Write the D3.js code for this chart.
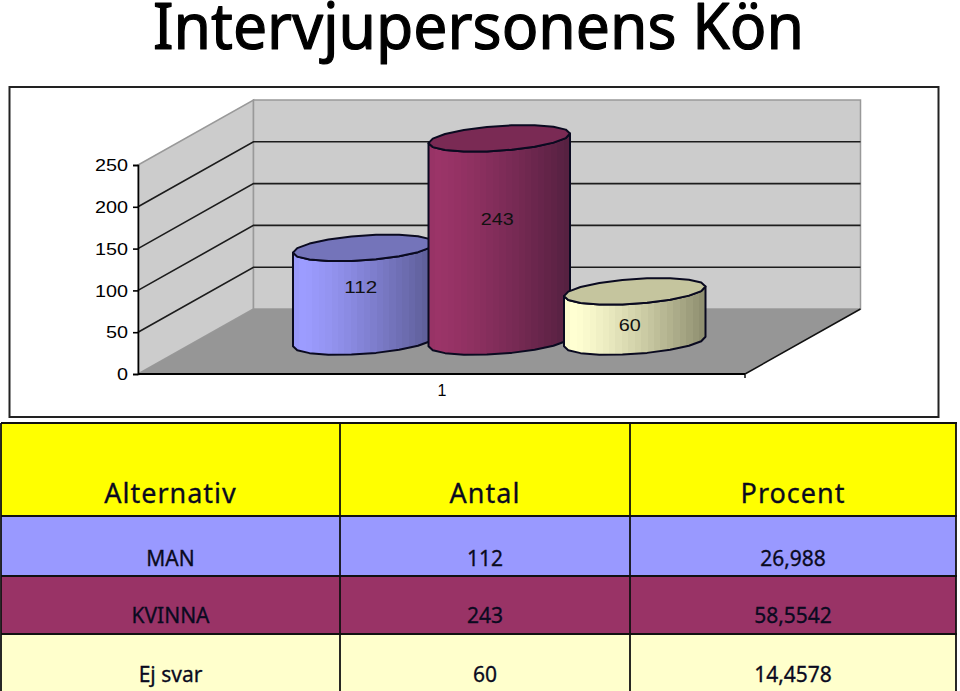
<!DOCTYPE html>
<html><head><meta charset="utf-8">
<script src="https://cdn.jsdelivr.net/npm/d3@7/dist/d3.min.js"></script>
<style>html,body{margin:0;padding:0;background:#fff}svg{display:block}</style>
</head><body><svg id="c" width="960" height="691"></svg>
<script>
const titleText = "Intervjupersonens Kön";
const categories = ["MAN","KVINNA","Ej svar"];
const counts = [112,243,60];
const percents = ["26,988","58,5542","14,4578"];
const headers = ["Alternativ","Antal","Procent"];
const axisTicks = [0,50,100,150,200,250];
const gridTicks = [50,100,150,200];
const xCategory = "1";

const light = ["#9c9cff","#9b3468","#ffffd2"];
const dark = ["#5a5a92","#542040","#8d8d6e"];
const topFill = ["#7474ba","#7a2a54","#c5c59e"];
const rowFill = ["#9999ff","#993366","#ffffcc"];
const labelNudgeY = [-7,-21,9];
const labelNudgeX = [-3,-2,-5];

const svg = d3.select("#c");
svg.append("rect").attr("width",960).attr("height",691).attr("fill","#fff");

// title
svg.append("text").attr("x",153).attr("y",49).text(titleText)
  .attr("font-family","Noto Sans").attr("font-size",63)
  .attr("textLength",651).attr("lengthAdjust","spacingAndGlyphs")
  .attr("fill","#000").attr("stroke","#000").attr("stroke-width",1.2).attr("stroke-linejoin","round");

// frame
svg.append("rect").attr("x",9.5).attr("y",87).attr("width",929).attr("height",330)
  .attr("fill","#fff").attr("stroke","#222").attr("stroke-width",2);

// 3D scene
const y = d3.scaleLinear().domain([0,250]).range([374,165]);
const x0 = 138, x1 = 745, dx = 115.5, dy = -65;
const line = d3.line();
const wide = (sel,perChar) => sel.attr("textLength",function(){return this.textContent.length*perChar;})
  .attr("lengthAdjust","spacingAndGlyphs");

const g = svg.append("g");
g.append("path").attr("d",line([[x0,y(0)],[x0+dx,y(0)+dy],[x0+dx,y(250)+dy],[x0,y(250)]])+"Z")
  .attr("fill","#cccccc").attr("stroke","#999").attr("stroke-width",1.5);
g.append("path").attr("d",line([[x0+dx,y(0)+dy],[x1+dx,y(0)+dy],[x1+dx,y(250)+dy],[x0+dx,y(250)+dy]])+"Z")
  .attr("fill","#cccccc").attr("stroke","#999").attr("stroke-width",1.5);
g.append("path").attr("d",line([[x0,y(0)],[x1,y(0)],[x1+dx,y(0)+dy],[x0+dx,y(0)+dy]])+"Z")
  .attr("fill","#969696");
g.selectAll(".gl").data(gridTicks).join("path").attr("class","gl")
  .attr("d",d=>line([[x0,y(d)],[x0+dx,y(d)+dy],[x1+dx,y(d)+dy]]))
  .attr("fill","none").attr("stroke","#1c1c1c").attr("stroke-width",1.6);
g.append("path").attr("d",line([[x1,y(0)+4],[x1,y(0)],[x1+dx,y(0)+dy]]))
  .attr("fill","none").attr("stroke","#111").attr("stroke-width",1.5);

// value axis
const yAxis = d3.axisLeft(y).tickValues(axisTicks).tickSize(5).tickPadding(5);
const ya = svg.append("g").attr("transform",`translate(${x0},0)`).call(yAxis);
ya.selectAll("path,line").attr("stroke","#000").attr("stroke-width",1.6);
ya.selectAll("text").attr("font-family","Liberation Sans").attr("font-size",16).attr("fill","#000")
  .attr("dy","0.36em").call(wide,11);

// category axis
const xa = d3.scalePoint().domain([xCategory]).range([(x0+x1)/2,(x0+x1)/2]);
const xAxisG = svg.append("g").attr("transform",`translate(0,${y(0)})`)
  .call(d3.axisBottom(xa).tickSize(0).tickPadding(11));
xAxisG.select(".domain").attr("d",`M${x0},0H${x1}`).attr("stroke","#000").attr("stroke-width",1.8);
xAxisG.selectAll("text").attr("font-family","Liberation Sans").attr("font-size",16).attr("fill","#000");

// cylinders
const mid = (x0+x1)/2 + dx/2;
const xc = d3.scalePoint().domain(categories).range([mid-135.5,mid+135.5]);
const ax = 70.75, bz = 12.4, skew = 4.8, baseY = y(0)+dy/2;
const defs = svg.append("defs");
const pt = (cx,cy,t) => [cx+ax*Math.cos(t), cy+bz*Math.sin(t)-skew*Math.cos(t)];
const arc = (cx,cy,a,b) => { const n = Math.round(Math.abs(b-a)/Math.PI*9);
  return d3.range(n+1).map(i=>pt(cx,cy,a+(b-a)*i/n)); };
const bands = 22;

categories.forEach((c,i)=>{
  const gid = "grad"+i;
  const gr = defs.append("linearGradient").attr("id",gid);
  const shade = f => f<0.07 ? d3.interpolateRgb(light[i],dark[i])(0.06*(0.07-f)/0.07)
                            : d3.interpolateRgb(light[i],dark[i])(Math.pow((f-0.07)/0.93,1.25));
  d3.range(bands).forEach(k=>{
    const col = shade((k+0.5)/bands);
    gr.append("stop").attr("offset",k/bands).attr("stop-color",col);
    gr.append("stop").attr("offset",(k+1)/bands).attr("stop-color",col);
  });
  const cx = xc(c), v = counts[i];
  const cyTop = baseY-(y(0)-y(v)), cyBot = baseY;
  const body = [...arc(cx,cyBot,Math.PI,0), ...arc(cx,cyTop,0,Math.PI)];
  const cg = svg.append("g").attr("class","cyl");
  cg.append("path").attr("d",line(body)+"Z").attr("fill",`url(#${gid})`)
    .attr("stroke","#0a0a20").attr("stroke-width",2).attr("stroke-linejoin","round");
  cg.append("path").attr("d",line(arc(cx,cyTop,0,2*Math.PI))+"Z").attr("fill",topFill[i])
    .attr("stroke","#0a0a20").attr("stroke-width",2).attr("stroke-linejoin","round");
  cg.append("text").attr("x",cx+labelNudgeX[i]).attr("y",(cyTop+cyBot)/2+labelNudgeY[i]).attr("dy","0.36em")
    .attr("text-anchor","middle").text(v)
    .attr("font-family","Liberation Sans").attr("font-size",16).attr("fill","#111")
    .call(wide,11);
});

// table
const colEdges = [1,340,630,956];
const rowEdges = [423,516,576,634,691];
const baseOff = [13,10,11,9];
const cols = d3.range(3), rows = d3.range(4);
const fills = ["#ffff00",...rowFill];
const rowText = [headers, ...categories.map((c,i)=>[c,String(counts[i]),percents[i]])];
const tg = svg.append("g");
rows.forEach(r=>{
  tg.append("rect").attr("x",colEdges[0]).attr("y",rowEdges[r]).attr("width",colEdges[3]-colEdges[0])
    .attr("height",rowEdges[r+1]-rowEdges[r]).attr("fill",fills[r]);
});
rowEdges.slice(0,4).forEach(e=>tg.append("line").attr("x1",1).attr("x2",957).attr("y1",e).attr("y2",e)
  .attr("stroke","#111").attr("stroke-width",1.8));
colEdges.forEach(e=>tg.append("line").attr("x1",e).attr("x2",e).attr("y1",423).attr("y2",691)
  .attr("stroke","#111").attr("stroke-width",1.8));
rows.forEach(r=>cols.forEach(k=>{
  tg.append("text").attr("x",(colEdges[k]+colEdges[k+1])/2).attr("y",rowEdges[r+1]-baseOff[r])
    .attr("text-anchor","middle").text(rowText[r][k])
    .attr("font-family","Noto Sans").attr("font-size",r===0?27:21)
    .attr("letter-spacing",r===0?1:0).attr("fill","#0a0a20")
    .attr("stroke","#0a0a20").attr("stroke-width",0.3);
}));
</script></body></html>
